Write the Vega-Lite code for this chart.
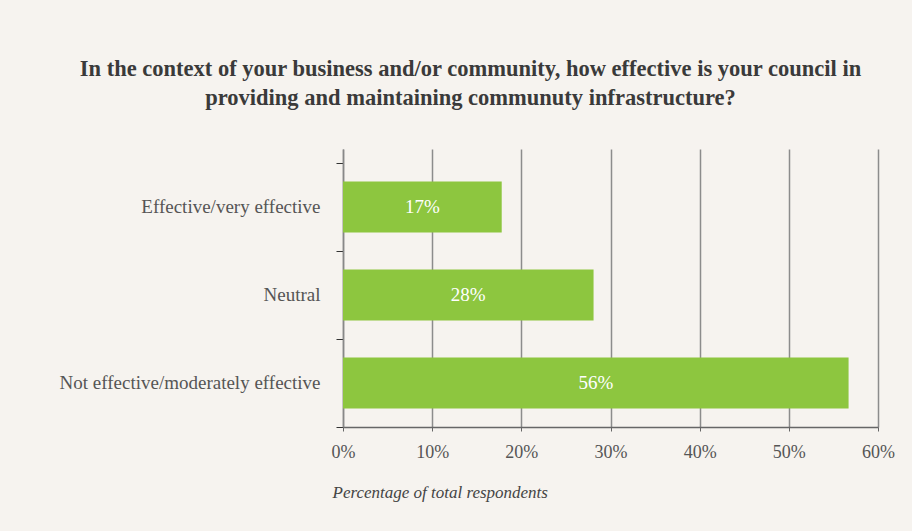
{
  "$schema": "https://vega.github.io/schema/vega-lite/v6.json",
  "width": 535,
  "height": 278,
  "autosize": {"type": "none"},
  "padding": {"left": 343, "top": 149, "right": 34, "bottom": 104},
  "background": "#f6f3ef",
  "config": {"view": {"stroke": null}},
  "title": {
    "text": ["In the context of your business and/or community, how effective is your council in", "providing and maintaining communuty infrastructure?"],
    "font": "Liberation Serif",
    "fontSize": 22.5,
    "fontWeight": "bold",
    "color": "#3a3a3a",
    "anchor": "middle",
    "frame": "group",
    "dx": -140,
    "offset": 31,
    "lineHeight": 29
  },
  "data": {
    "values": [
      {"response": "Effective/very effective", "value": 17.8, "label": "17%"},
      {"response": "Neutral", "value": 28.1, "label": "28%"},
      {"response": "Not effective/moderately effective", "value": 56.7, "label": "56%"}
    ]
  },
  "encoding": {
    "y": {
      "field": "response",
      "type": "nominal",
      "sort": null,
      "scale": {"paddingInner": 0, "paddingOuter": 0.0795, "align": 1},
      "axis": {
        "title": null,
        "domain": true,
        "domainColor": "#888888",
        "domainWidth": 1.5,
        "ticks": true,
        "tickBand": "extent",
        "tickColor": "#333333",
        "tickSize": 7,
        "tickWidth": 1,
        "labelPadding": 16,
        "labelLimit": 400,
        "labelFont": "Liberation Serif",
        "labelFontSize": 19,
        "labelColor": "#555555",
        "grid": false
      }
    }
  },
  "layer": [
    {
      "mark": {"type": "bar", "color": "#8dc63f", "height": {"band": 0.58}},
      "encoding": {
        "x": {
          "field": "value",
          "type": "quantitative",
          "scale": {"domain": [0, 60], "nice": false},
          "axis": {
            "values": [0, 10, 20, 30, 40, 50, 60],
            "labelExpr": "datum.value + '%'",
            "grid": true,
            "gridColor": "#8c8c8c",
            "gridWidth": 1.5,
            "domainColor": "#666666",
            "domainWidth": 1.5,
            "tickColor": "#666666",
            "tickSize": 4,
            "labelFont": "Liberation Serif",
            "labelFontSize": 18,
            "labelColor": "#555555",
            "labelPadding": 12,
            "labelFlush": false,
            "labelOverlap": false,
            "title": "Percentage of total respondents",
            "titleFont": "Liberation Serif",
            "titleFontStyle": "italic",
            "titleFontWeight": "normal",
            "titleFontSize": 17,
            "titleColor": "#444444",
            "titleAnchor": "start",
            "titleAlign": "left",
            "titleBaseline": "alphabetic",
            "titleX": -11,
            "titleY": 70
          }
        }
      }
    },
    {
      "mark": {"type": "text", "color": "#ffffff", "font": "Liberation Serif", "fontSize": 19, "align": "center", "baseline": "middle"},
      "encoding": {
        "x": {
          "field": "value",
          "type": "quantitative",
          "scale": {"domain": [0, 120], "nice": false},
          "axis": null
        },
        "text": {"field": "label"}
      }
    }
  ],
  "resolve": {"scale": {"x": "independent"}}
}
